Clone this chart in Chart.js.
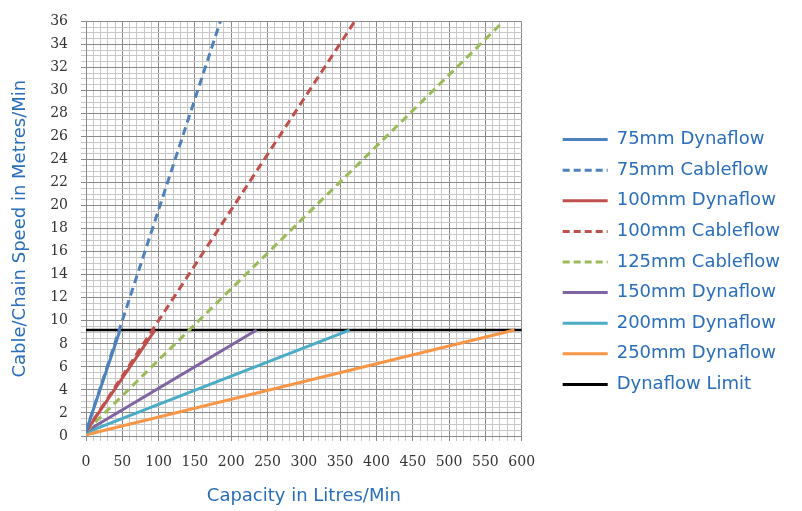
<!DOCTYPE html>
<html>
<head>
<meta charset="utf-8">
<script src="https://cdn.jsdelivr.net/npm/chart.js@4.4.1/dist/chart.umd.min.js"></script>
<style>
  body { margin: 0; background: #fff; }
  #wrap { width: 802px; height: 511px; }
</style>
</head>
<body>
<div id="wrap"><canvas id="speedChart" width="802" height="511"></canvas></div>
<script>
// capacity (litres/min) and speed (metres/min) end points
const seriesNames = [
  '75mm Dynaflow', '75mm Cableflow', '100mm Dynaflow', '100mm Cableflow',
  '125mm Cableflow', '150mm Dynaflow', '200mm Dynaflow', '250mm Dynaflow', 'Dynaflow Limit'
];
const dyna75Cap = [0, 47];
const dyna75Speed = [0.4, 9.2];
const cable75Cap = [0, 185];
const cable75Speed = [0.4, 36];
const dyna100Cap = [0, 95];
const dyna100Speed = [0.4, 9.2];
const cable100Cap = [0, 370];
const cable100Speed = [0.4, 36];
const cable125Cap = [0, 575];
const cable125Speed = [0.4, 36];
const dyna150Cap = [0, 235];
const dyna150Speed = [0.4, 9.2];
const dyna200Cap = [0, 363];
const dyna200Speed = [0.3, 9.2];
const dyna250Cap = [0, 590];
const dyna250Speed = [0.1, 9.2];
const limitCap = [0, 600];
const limitSpeed = [9.2, 9.2];

const xTicks = [0, 50, 100, 150, 200, 250, 300, 350, 400, 450, 500, 550, 600];
const yTicks = [0, 2, 4, 6, 8, 10, 12, 14, 16, 18, 20, 22, 24, 26, 28, 30, 32, 34, 36];
const xMinorStep = 10;
const yMinorStep = 0.5;

const colors = ['#4f81bd', '#4f81bd', '#c0504d', '#c0504d', '#9bbb59', '#8064a2', '#4bacc6', '#f79646', '#000000'];
const dashed = [false, true, false, true, true, false, false, false, false];

const caps = [dyna75Cap, cable75Cap, dyna100Cap, cable100Cap, cable125Cap, dyna150Cap, dyna200Cap, dyna250Cap, limitCap];
const speeds = [dyna75Speed, cable75Speed, dyna100Speed, cable100Speed, cable125Speed, dyna150Speed, dyna200Speed, dyna250Speed, limitSpeed];

const toPoints = (xs, ys) => xs.map((x, i) => ({ x, y: ys[i] }));

// every grid line position, major and minor
const gridValues = (max, step) => {
  const out = [];
  for (let i = 0; i * step <= max + 1e-9; i++) out.push({ value: +(i * step).toFixed(2) });
  return out;
};

const datasets = seriesNames.map((name, i) => ({
  label: name,
  data: toPoints(caps[i], speeds[i]),
  borderColor: colors[i],
  backgroundColor: colors[i],
  borderWidth: i === 8 ? 2.5 : 3,
  borderDash: dashed[i] ? [8, 5] : [],
  pointRadius: 0,
  fill: false,
  tension: 0
}));

const blue = '#2a6ebb';
const minorGrid = '#c8c8c8';
const majorGrid = '#8a8a8a';
const tickColor = '#333333';

new Chart(document.getElementById('speedChart'), {
  type: 'line',
  data: { datasets },
  options: {
    responsive: false,
    animation: false,
    layout: { padding: { top: 13, right: 12, left: 0, bottom: 0 } },
    plugins: {
      tooltip: { enabled: false },
      legend: {
        position: 'right',
        align: 'center',
        maxWidth: 252,
        labels: {
          usePointStyle: true,
          pointStyle: 'line',
          pointStyleWidth: 45,
          boxWidth: 45,
          padding: 12.6,
          color: blue,
          font: { family: 'DejaVu Sans', size: 18 },
          // keep the dashes of the cableflow lines in the legend samples
          generateLabels: chart =>
            Chart.defaults.plugins.legend.labels.generateLabels(chart).map(item => {
              const ds = chart.data.datasets[item.datasetIndex];
              item.lineDash = ds.borderDash.length ? [7, 4] : [];
              item.lineWidth = 3;
              item.strokeStyle = ds.borderColor;
              item.pointStyle = 'line';
              return item;
            })
        }
      }
    },
    scales: {
      x: {
        type: 'linear',
        min: 0,
        max: 600,
        afterFit: scale => { scale.height = 75; },
        afterBuildTicks: scale => { scale.ticks = gridValues(600, xMinorStep); },
        ticks: {
          autoSkip: false,
          maxRotation: 0,
          padding: 13,
          color: tickColor,
          font: { family: 'DejaVu Serif', size: 14 },
          callback: v => (xTicks.includes(v) ? String(v) : '')
        },
        grid: {
          tickLength: 5,
          color: ctx => (ctx.tick && xTicks.includes(ctx.tick.value) ? majorGrid : minorGrid)
        },
        border: { color: majorGrid },
        title: {
          display: true,
          text: 'Capacity in Litres/Min',
          color: blue,
          font: { family: 'DejaVu Sans', size: 18 },
          padding: { top: 0, bottom: 4 }
        }
      },
      y: {
        type: 'linear',
        min: 0,
        max: 36,
        afterFit: scale => { scale.width = 86; },
        afterBuildTicks: scale => { scale.ticks = gridValues(36, yMinorStep); },
        ticks: {
          autoSkip: false,
          padding: 13,
          color: tickColor,
          font: { family: 'DejaVu Serif', size: 14 },
          callback: v => (yTicks.includes(v) ? String(v) : '')
        },
        grid: {
          tickLength: 5,
          color: ctx => (ctx.tick && yTicks.includes(ctx.tick.value) ? majorGrid : minorGrid)
        },
        border: { color: majorGrid },
        title: {
          display: true,
          text: 'Cable/Chain Speed in Metres/Min',
          color: blue,
          font: { family: 'DejaVu Sans', size: 18 },
          padding: { top: 10, bottom: 0 }
        }
      },
      gap: {
        type: 'linear',
        position: 'right',
        display: true,
        afterFit: scale => { scale.width = 28.4; },
        ticks: { display: false },
        grid: { display: false, drawTicks: false },
        border: { display: false }
      }
    }
  }
});
</script>
</body>
</html>
